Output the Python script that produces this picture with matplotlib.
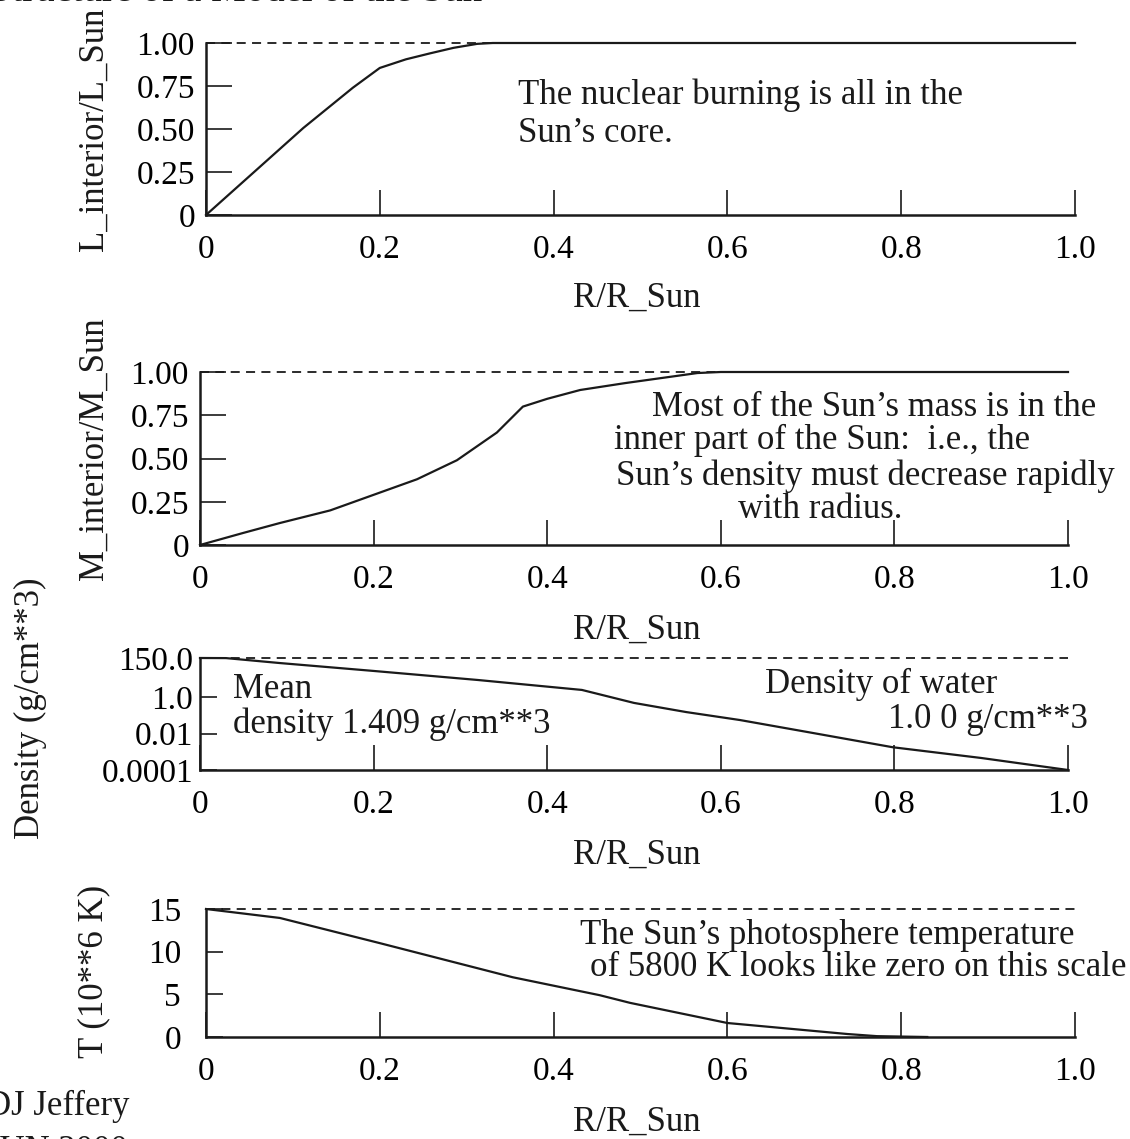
import numpy as np
import matplotlib.pyplot as plt

plt.rcParams['font.family'] = ['Liberation Serif', 'DejaVu Serif']

# values
r_lum = [0, 0.062, 0.112, 0.169, 0.2, 0.23, 0.258, 0.285, 0.312, 0.33, 1.0]
lum = [0, 0.28, 0.506, 0.74, 0.855, 0.905, 0.94, 0.972, 0.995, 1.0, 1.0]

r_mass = [0, 0.05, 0.092, 0.15, 0.2, 0.25, 0.296, 0.342, 0.372, 0.4, 0.438, 0.49, 0.573, 0.6, 1.0]
mass = [0, 0.07, 0.127, 0.2, 0.29, 0.38, 0.49, 0.65, 0.80, 0.845, 0.896, 0.936, 0.994, 1.0, 1.0]

r_dens = [0, 0.03, 0.092, 0.2, 0.32, 0.44, 0.5, 0.56, 0.622, 0.7, 0.798, 0.9, 1.0]
dens = [150, 148, 79, 29, 9.2, 2.6, 0.5, 0.157, 0.057, 0.0124, 0.0018, 4.6e-4, 1e-4]

r_temp = [0, 0.085, 0.2, 0.353, 0.453, 0.488, 0.6, 0.738, 0.772, 0.83]
temp = [15, 13.95, 11.0, 7.0, 4.9, 4.0, 1.64, 0.35, 0.1, 0.0]

x_ticks = [0, 0.2, 0.4, 0.6, 0.8, 1.0]
x_ticklabels = ['0', '0.2', '0.4', '0.6', '0.8', '1.0']
frac_ticks = [0, 0.25, 0.5, 0.75, 1.0]
frac_ticklabels = ['0', '0.25', '0.50', '0.75', '1.00']
dens_ticks = [1e-4, 0.01, 1.0, 150.0]
dens_ticklabels = ['0.0001', '0.01', '1.0', '150.0']
temp_ticks = [0, 5, 10, 15]
temp_ticklabels = ['0', '5', '10', '15']

W, H = 1130, 1139
INK = '#1a1a1a'
FS_TICK = 24
FS = 25


def fig_xy(x, y):
    return x / W, 1 - y / H


def box(left, top, right, bottom):
    return [left / W, 1 - bottom / H, (right - left) / W, (bottom - top) / H]


def style(ax, ylen, ypad):
    for s in ['top', 'right']:
        ax.spines[s].set_visible(False)
    for s in ['left', 'bottom']:
        ax.spines[s].set_linewidth(1.8)
        ax.spines[s].set_color(INK)
    ax.set_xlim(0, 1)
    ax.set_xticks(x_ticks)
    ax.set_xticklabels(x_ticklabels)
    ax.tick_params(axis='x', direction='in', length=18, width=1.2, pad=14,
                   labelsize=FS_TICK, color=INK)
    ax.tick_params(axis='y', direction='in', length=ylen, width=1.2, pad=ypad,
                   labelsize=FS_TICK, color=INK)
    ax.tick_params(axis='y', which='minor', length=0)


fig = plt.figure(figsize=(W / 100, H / 100), dpi=100)

ax1 = fig.add_axes(box(206, 43, 1075, 215))
ax2 = fig.add_axes(box(200, 372, 1068, 545))
ax3 = fig.add_axes(box(200, 658, 1068, 770))
ax4 = fig.add_axes(box(206, 909, 1075, 1037))

line_kw = dict(color=INK, lw=1.6, clip_on=False, zorder=3)
dash_kw = dict(color=INK, lw=1.3, dashes=(5, 3.5), clip_on=False, zorder=2)

# luminosity
ax1.axhline(1.0, **dash_kw)
ax1.plot(r_lum, lum, **line_kw)
ax1.set_ylim(0, 1)
ax1.set_yticks(frac_ticks)
ax1.set_yticklabels(frac_ticklabels)
style(ax1, 19, 8)

# mass
ax2.axhline(1.0, **dash_kw)
ax2.plot(r_mass, mass, **line_kw)
ax2.set_ylim(0, 1)
ax2.set_yticks(frac_ticks)
ax2.set_yticklabels(frac_ticklabels)
style(ax2, 19, 8)

# density
ax3.set_yscale('log')
ax3.axhline(150.0, **dash_kw)
ax3.plot(r_dens, dens, **line_kw)
ax3.set_ylim(1e-4, 150)
ax3.set_yticks(dens_ticks)
ax3.set_yticklabels(dens_ticklabels)
style(ax3, 12, 5)

# temperature
ax4.axhline(15, **dash_kw)
ax4.plot(r_temp, temp, **line_kw)
ax4.set_ylim(0, 15)
ax4.set_yticks(temp_ticks)
ax4.set_yticklabels(temp_ticklabels)
style(ax4, 12, 18)

# axis titles
for y in [298, 630, 855, 1122]:
    fig.text(*fig_xy(637, y), 'R/R_Sun', fontsize=FS, ha='center', va='center', color=INK)

fig.text(*fig_xy(94, 129), 'L_interior/L_Sun', fontsize=FS, rotation=90,
         ha='center', va='center', color=INK)
fig.text(*fig_xy(94, 449), 'M_interior/M_Sun', fontsize=FS, rotation=90,
         ha='center', va='center', color=INK)
fig.text(*fig_xy(30, 708), 'Density (g/cm**3)', fontsize=FS, rotation=90,
         ha='center', va='center', color=INK)
fig.text(*fig_xy(94, 971), 'T (10**6 K)', fontsize=FS, rotation=90,
         ha='center', va='center', color=INK)

# notes inside the panels
notes = [
    (518, 95, 'The nuclear burning is all in the'),
    (518, 133, 'Sun\u2019s core.'),
    (652, 407, 'Most of the Sun\u2019s mass is in the'),
    (614, 440, 'inner part of the Sun:  i.e., the'),
    (616, 476, 'Sun\u2019s density must decrease rapidly'),
    (738, 510, 'with radius.'),
    (233, 690, 'Mean'),
    (233, 724, 'density 1.409 g/cm**3'),
    (765, 684, 'Density of water'),
    (888, 720, '1.0 0 g/cm**3'),
    (580, 935, 'The Sun\u2019s photosphere temperature'),
    (590, 968, 'of 5800 K looks like zero on this scale'),
]
for x, y, s in notes:
    fig.text(*fig_xy(x, y), s, fontsize=FS, ha='left', va='center', color=INK)

# clipped header and credit, as in the scan
fig.text(*fig_xy(-10, 1), 'Structure of a Model of the Sun', fontsize=28,
         ha='left', va='baseline', color=INK)
fig.text(*fig_xy(-14, 1106), 'DJ Jeffery', fontsize=FS, ha='left', va='center', color=INK)
fig.text(*fig_xy(-14, 1151), 'JUN 2000', fontsize=FS, ha='left', va='center', color=INK)

fig.savefig('out.png', dpi=100)
